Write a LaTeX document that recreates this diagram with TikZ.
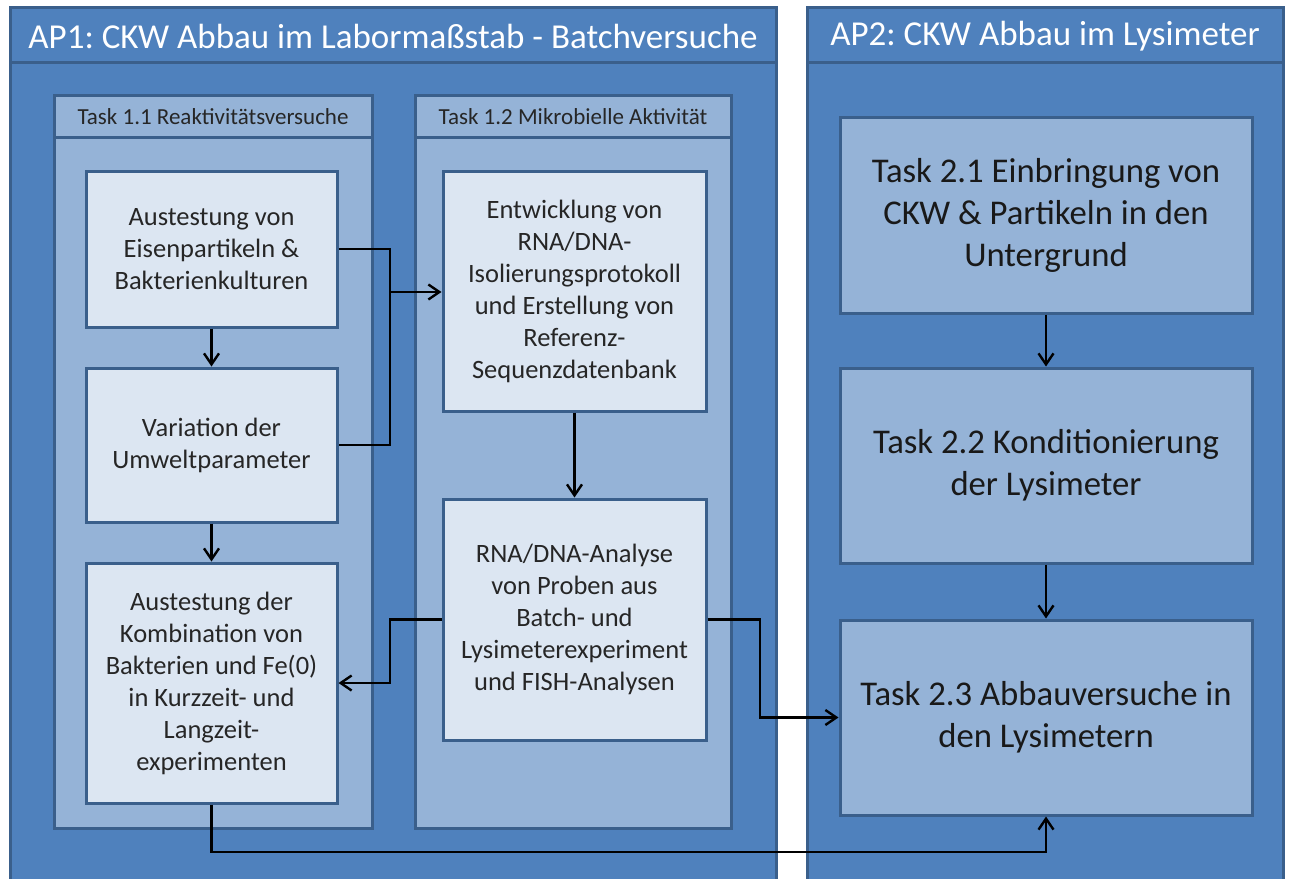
\documentclass[tikz,border=0pt]{standalone}
\usepackage{fontspec}
\setmainfont{Carlito}
\frenchspacing
\usetikzlibrary{arrows.meta}
\definecolor{outerblue}{HTML}{4F81BD}
\definecolor{borderblue}{HTML}{3A5F8B}
\definecolor{midblue}{HTML}{95B3D7}
\definecolor{lightblue}{HTML}{DCE6F2}
\tikzset{
  panel/.style={fill=outerblue, draw=borderblue, line width=3pt},
  subpanel/.style={fill=midblue, draw=borderblue, line width=3pt},
  inbox/.style={fill=lightblue, draw=borderblue, line width=3pt, inner sep=0pt, align=center,
     font=\fontsize{26.5}{32}\selectfont, text=black!85},
  apbox/.style={fill=midblue, draw=borderblue, line width=3pt, inner sep=0pt, align=center,
     font=\fontsize{34.7}{42}\selectfont, text=black!90},
  aptitle/.style={font=\fontsize{35}{40}\selectfont, text=white},
  tasktitle/.style={font=\fontsize{23}{26}\selectfont, text=black!85},
  conn/.style={line width=2.4pt, black},
  arr/.style={conn, -{Straight Barb[length=11pt,width=15pt,line width=2.4pt]}}
}
\begin{document}
\begin{tikzpicture}[x=1pt,y=-1pt]
\clip (0,0) rectangle (1290,878);
\fill[white] (0,0) rectangle (1290,878);
% AP1 panel
\draw[panel] (10,7) rectangle (776,900);
\draw[borderblue, line width=3pt] (10,62) -- (776,62);
\node[aptitle] (ap1) at (393,36) {AP1: CKW Abbau im Labormaßstab - Batchversuche};
% AP2 panel
\draw[panel] (807,7) rectangle (1283,900);
\draw[borderblue, line width=3pt] (807,62) -- (1283,62);
\node[aptitle] (ap2) at (1045,36) {AP2: CKW Abbau im Lysimeter};
% Task panels
\draw[subpanel] (54,95) rectangle (372,828);
\draw[borderblue, line width=3pt] (54,137) -- (372,137);
\node[tasktitle] (t11) at (213,117) {Task 1.1 Reaktivitätsversuche};
\draw[subpanel] (415,95) rectangle (731,828);
\draw[borderblue, line width=3pt] (415,137) -- (731,137);
\node[tasktitle] (t12) at (573,117) {Task 1.2 Mikrobielle Aktivität};
% inner boxes
\node[inbox, minimum width=251pt, minimum height=156pt] (b1) at (211.5,249)
  {Austestung von\\Eisenpartikeln \&\\Bakterienkulturen};
\node[inbox, minimum width=251pt, minimum height=154pt] (b2) at (211.5,445)
  {Variation der\\Umweltparameter};
\node[inbox, minimum width=251pt, minimum height=240pt] (b3) at (211.5,683)
  {Austestung der\\Kombination von\\Bakterien und Fe(0)\\in Kurzzeit- und\\Langzeit-\\experimenten};
\node[inbox, minimum width=263pt, minimum height=240pt] (b4) at (574.5,291)
  {Entwicklung von\\RNA/DNA-\\Isolierungsprotokoll\\und Erstellung von\\Referenz-\\Sequenzdatenbank};
\node[inbox, minimum width=263pt, minimum height=241pt] (b5) at (574.5,619.5)
  {RNA/DNA-Analyse\\von Proben aus\\Batch- und\\Lysimeterexperiment\\und FISH-Analysen};
% AP2 boxes
\node[apbox, minimum width=412pt, minimum height=196pt] (t21) at (1046,215)
  {Task 2.1 Einbringung von\\CKW \& Partikeln in den\\Untergrund};
\node[apbox, minimum width=412pt, minimum height=195pt] (t22) at (1046,465.5)
  {Task 2.2 Konditionierung\\der Lysimeter};
\node[apbox, minimum width=412pt, minimum height=195pt] (t23) at (1046,717.5)
  {Task 2.3 Abbauversuche in\\den Lysimetern};
% junction coordinates
\coordinate (j1) at (390,292);
\coordinate (j2) at (390,650);
\coordinate (j3) at (760,660);
\coordinate (j4) at (600,852);
% connectors
\draw[conn] (b1.east) -| (j1) |- (b2.east);
\draw[arr] (j1) -- (j1 -| b4.west);
\draw[arr] (b1.south) -- (b2.north);
\draw[arr] (b2.south) -- (b3.north);
\draw[arr] (b4.south) -- (b5.north);
\draw[arr] (b5.west) -| (j2) |- (b3.east);
\draw[arr] (b5.east) -| (j3) |- (t23.west);
\draw[arr] (b3.south) |- (j4) -| (t23.south);
\draw[arr] (t21.south) -- (t22.north);
\draw[arr] (t22.south) -- (t23.north);
\end{tikzpicture}
\end{document}
